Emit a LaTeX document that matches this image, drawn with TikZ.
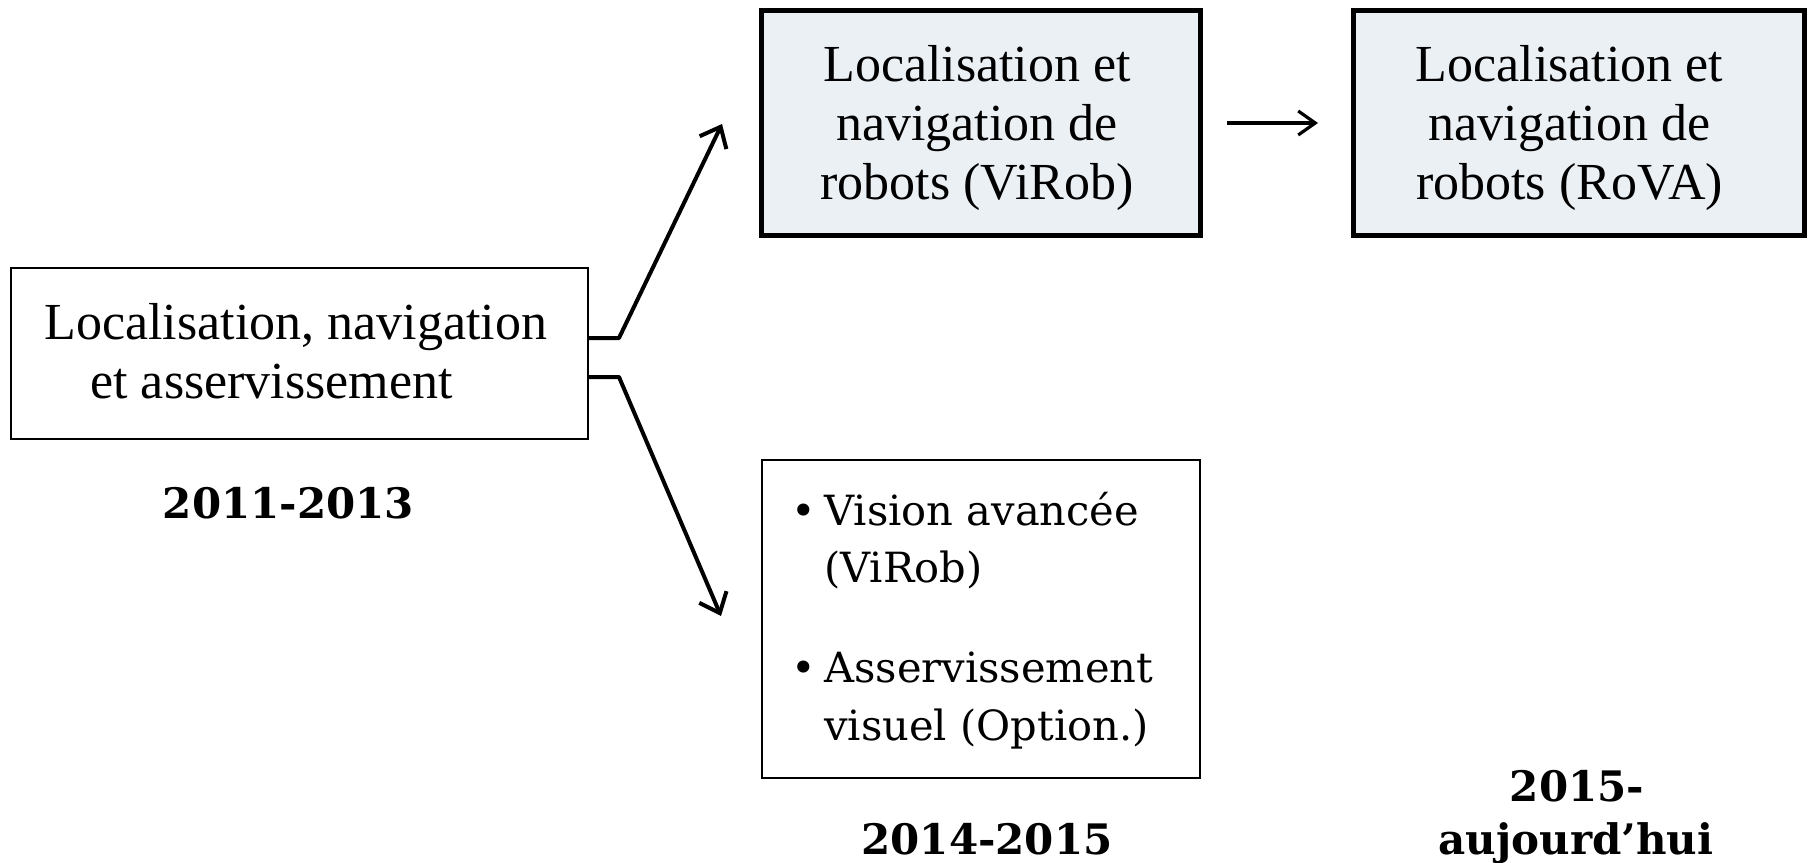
\documentclass[tikz,border=0pt]{standalone}
\usepackage{fontspec}
\setmainfont{Liberation Serif}
\newfontfamily\bodyserif{DejaVu Serif}
\usetikzlibrary{arrows.meta,calc}
\definecolor{boxfill}{RGB}{235,240,245}
\begin{document}
\begin{tikzpicture}[x=0.5pt,y=-0.5pt,
  plainbox/.style={draw=black,line width=1pt,rectangle,inner sep=0pt},
  phasebox/.style={draw=black,fill=boxfill,line width=2.5pt,rectangle,inner sep=0pt},
  % multi-line texts are anchored at the baseline of their last line
  boxtext/.style={inner sep=0pt,anchor=base,align=center,font=\fontsize{26}{29.5}\selectfont},
  yeartext/.style={inner sep=0pt,anchor=base,font=\bodyserif\bfseries\fontsize{21}{28.5}\selectfont},
  itemtext/.style={inner sep=0pt,anchor=base west,font=\bodyserif\fontsize{20.8}{24}\selectfont},
  link/.style={line width=2pt,line join=round,-{Straight Barb[length=8.8pt,width=14.8pt,line width=2pt]}},
  nextlink/.style={line width=1.6pt,-{Straight Barb[length=8.5pt,width=12pt,line width=1.6pt]}},
 ]
\useasboundingbox (0,0) rectangle (1809,862);

% boxes
\node[plainbox,minimum width=288.5pt,minimum height=85.5pt] (lb) at (299.5,353.5) {};
\node[phasebox,minimum width=219.5pt,minimum height=112.5pt] (v1) at (981,123) {};
\node[phasebox,minimum width=225.5pt,minimum height=112.5pt] (v2) at (1579,123) {};
\node[plainbox,minimum width=219pt,minimum height=159pt] (vb) at (981,619) {};

% box texts
\node[boxtext,anchor=base west,align=left] (lbt) at (44,398)
  {Localisation, navigation\\\hspace*{23pt}et asservissement};
\node[boxtext] (v1t) at (977,199) {Localisation et\\navigation de\\robots (ViRob)};
\node[boxtext] (v2t) at (1569.5,199) {Localisation et\\navigation de\\robots (RoVA)};

\node[itemtext] (i1) at (824,525) {\llap{\textbullet\hspace{4pt}}Vision avancée};
\node[itemtext] (i2) at (824,582) {(ViRob)};
\node[itemtext] (i3) at (824,682) {\llap{\textbullet\hspace{4pt}}Asservissement};
\node[itemtext] (i4) at (824,740) {visuel (Option.)};

% years
\node[yeartext] (y1) at (288.5,518) {2011-2013};
\node[yeartext] (y2) at (987,854) {2014-2015};
\node[yeartext] (y3a) at (1577,801) {2015-};
\node[yeartext] (y3b) at (1576,854) {aujourd’hui};

% connectors
\coordinate (tipA) at (722,124);
\coordinate (tipB) at (721,616);
\draw[link] ($(lb.east)+(0,-15.5)$) -- ++(30,0) -- (tipA);
\draw[link] ($(lb.east)+(0,23.5)$) -- ++(30,0) -- (tipB);
\draw[nextlink] ($(v1.east)+(24,0)$) -- ($(v2.west)+(-33,0)$);
\end{tikzpicture}
\end{document}
